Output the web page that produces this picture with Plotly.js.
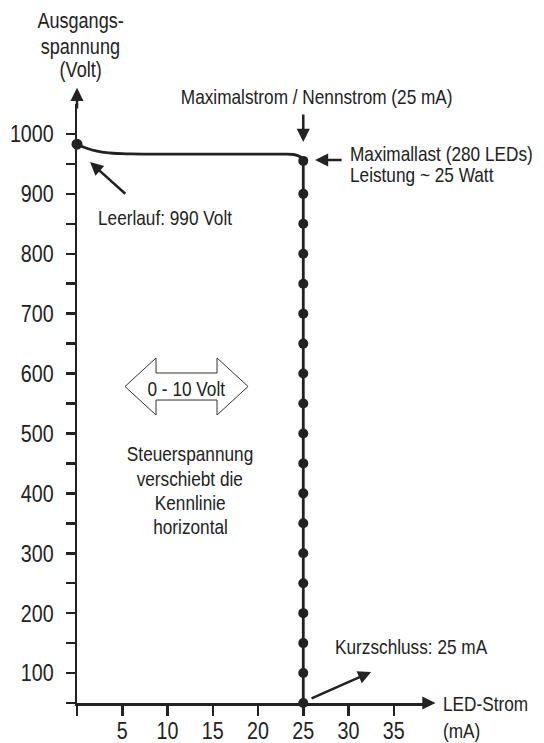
<!DOCTYPE html>
<html>
<head>
<meta charset="utf-8">
<script src="https://cdn.plot.ly/plotly-3.0.1.min.js"></script>
<style>html,body{margin:0;padding:0;background:#fff;}#chart{width:544px;height:743px;}</style>
</head>
<body>
<div id="chart"></div>
<script>
// ---- data ----
var curveX = [0, 0.5, 1, 1.5, 2, 2.5, 3, 4, 5, 6, 8, 12, 16, 20, 23, 23.9, 24.4, 24.8, 25];
var curveY = [983, 979.5, 976.5, 974, 972, 970.5, 969.3, 967.8, 967, 966.6, 966.3, 966.2, 966.2, 966.2, 966.2, 965.7, 963.8, 960.5, 955];
var startX = [0];
var startY = [983];
var loadX = [25, 25, 25, 25, 25, 25, 25, 25, 25, 25, 25, 25, 25, 25, 25, 25, 25, 25, 25];
var loadY = [955, 900, 850, 800, 750, 700, 650, 600, 550, 500, 450, 400, 350, 300, 250, 200, 150, 100, 50];
var xTickVals = [0, 5, 10, 15, 20, 25, 30, 35];
var xTickText = ['', '5', '10', '15', '20', '25', '30', '35'];
var yTickVals = [50, 100, 150, 200, 250, 300, 350, 400, 450, 500, 550, 600, 650, 700, 750, 800, 850, 900, 950, 1000];
var yTickText = ['', '100', '', '200', '', '300', '', '400', '', '500', '', '600', '', '700', '', '800', '', '900', '', '1000'];

var FONT = '"Liberation Sans Narrow", "Arial Narrow", "Liberation Sans", Arial, sans-serif';
var INK = '#222222';
var SQUEEZE = 0.82;       // emulate the condensed face of the original
var TICK_SQUEEZE = 0.82;

var traces = [
  {x: curveX, y: curveY, mode: 'lines', line: {color: INK, width: 2.8, shape: 'spline', smoothing: 0.8}, cliponaxis: false, hoverinfo: 'skip'},
  {x: loadX, y: loadY, mode: 'lines+markers', line: {color: INK, width: 2.8}, marker: {color: INK, size: 10}, cliponaxis: false, hoverinfo: 'skip'},
  {x: startX, y: startY, mode: 'markers', marker: {color: INK, size: 11}, cliponaxis: false, hoverinfo: 'skip'}
];

function txt(text, x, y, xanchor, size, ref) {
  return {text: text, x: x, y: y, xref: ref ? 'paper' : 'x', yref: ref ? 'paper' : 'y', showarrow: false,
    xanchor: xanchor || 'center', yanchor: 'middle', align: xanchor === 'left' ? 'left' : 'center',
    borderpad: 0,
    font: {family: FONT, size: size || 21, color: INK}};
}
function arr(x, y, ax, ay) {
  return {text: '', x: x, y: y, ax: ax, ay: ay, xref: 'x', yref: 'y', axref: 'x', ayref: 'y',
    showarrow: true, arrowhead: 2, arrowsize: 1.05, arrowwidth: 2.5, arrowcolor: INK, standoff: 0};
}

var annotations = [
  arr(39.6, 50, 38.5, 50),
  arr(0, 1077, 0, 1040),
  txt('Ausgangs-', 0.0105, 1.1402, 'center', 22, true),
  txt('spannung', 0.0105, 1.0968, 'center', 22, true),
  txt('(Volt)', 0.0105, 1.0584, 'center', 22, true),
  txt('LED-Strom', 1.0331, 0.0, 'left', 21, true),
  txt('(mA)', 1.0331, -0.0451, 'left', 21, true),
  txt('Maximalstrom / Nennstrom (25 mA)', 0.6785, 1.0117, 'center', 21, true),
  arr(25, 986.6, 25, 1035),
  txt('Maximallast (280 LEDs)', 30.06, 968, 'left', 21),
  txt('Leistung ~ 25 Watt', 30.06, 933, 'left', 21),
  arr(26.3, 956.5, 29.4, 956.5),
  txt('Leerlauf: 990 Volt', 2.2, 859.7, 'left', 21),
  arr(1.44, 953, 5.5, 898),
  txt('0 - 10 Volt', 12.1, 575, 'center', 21),
  txt('Steuerspannung', 12.5, 466, 'center', 21),
  txt('verschiebt die', 12.5, 425, 'center', 21),
  txt('Kennlinie', 12.5, 385, 'center', 21),
  txt('horizontal', 12.5, 345, 'center', 21),
  txt('Kurzschluss: 25 mA', 28.4, 143.5, 'left', 21),
  arr(32.5, 101.8, 25.75, 56.7)
];

var dblX = [5.30, 8.73, 8.73, 15.47, 15.47, 18.90, 15.47, 15.47, 8.73, 8.73];
var dblY = [578.4, 626.0, 600.9, 600.9, 626.0, 578.4, 530.8, 555.8, 555.8, 530.8];
var path = 'M' + dblX.map(function (v, i) { return v + ',' + dblY[i]; }).join(' L') + ' Z';

var layout = {
  width: 544, height: 743,
  margin: {l: 77, r: 114, t: 104, b: 40, pad: 0},
  paper_bgcolor: '#ffffff', plot_bgcolor: '#ffffff',
  showlegend: false,
  font: {family: FONT, color: INK},
  xaxis: {range: [0, 39], showgrid: false, zeroline: false, showline: true, linecolor: INK, linewidth: 2.5,
    ticks: 'outside', ticklen: 10, tickwidth: 2.5, tickcolor: INK,
    tickvals: xTickVals, ticktext: xTickText, tickfont: {family: FONT, size: 24, color: INK},
    ticklabelstandoff: -5, fixedrange: true},
  yaxis: {range: [50, 1050], showgrid: false, zeroline: false, showline: true, linecolor: INK, linewidth: 2.5,
    ticks: 'outside', ticklen: 9, tickwidth: 2.5, tickcolor: INK,
    tickvals: yTickVals, ticktext: yTickText, tickfont: {family: FONT, size: 24, color: INK},
    ticklabelstandoff: 7, fixedrange: true},
  shapes: [{type: 'path', path: path, xref: 'x', yref: 'y', line: {color: '#333333', width: 1}, fillcolor: '#ffffff', layer: 'below'}],
  annotations: annotations
};

function squeeze(gd) {
  var texts = gd.querySelectorAll('text');
  texts.forEach(function (t) {
    if (t.getAttribute('lengthAdjust')) return;
    if (!t.textContent) return;
    var w;
    try { w = t.getComputedTextLength(); } catch (e) { return; }
    if (!w) return;
    var isTick = !!t.closest('.xtick, .ytick');
    var f = isTick ? TICK_SQUEEZE : SQUEEZE;
    var before = t.getBBox();
    t.setAttribute('textLength', (w * f).toFixed(2));
    t.setAttribute('lengthAdjust', 'spacingAndGlyphs');
    var after = t.getBBox();
    var g = t.closest('g.annotation');
    if (g) {
      var idx = +g.getAttribute('data-index');
      if (annotations[idx] && annotations[idx].xanchor === 'left') {
        var dx = before.x - after.x;
        t.setAttribute('x', (+t.getAttribute('x') + dx).toFixed(2));
      }
    }
  });
}

var gdEl = document.getElementById('chart');
Plotly.newPlot(gdEl, traces, layout, {displayModeBar: false, staticPlot: true}).then(function (gd) {
  squeeze(gd);
  requestAnimationFrame(function () { squeeze(gd); });
  setTimeout(function () { squeeze(gd); }, 30);
});
</script>
</body>
</html>
